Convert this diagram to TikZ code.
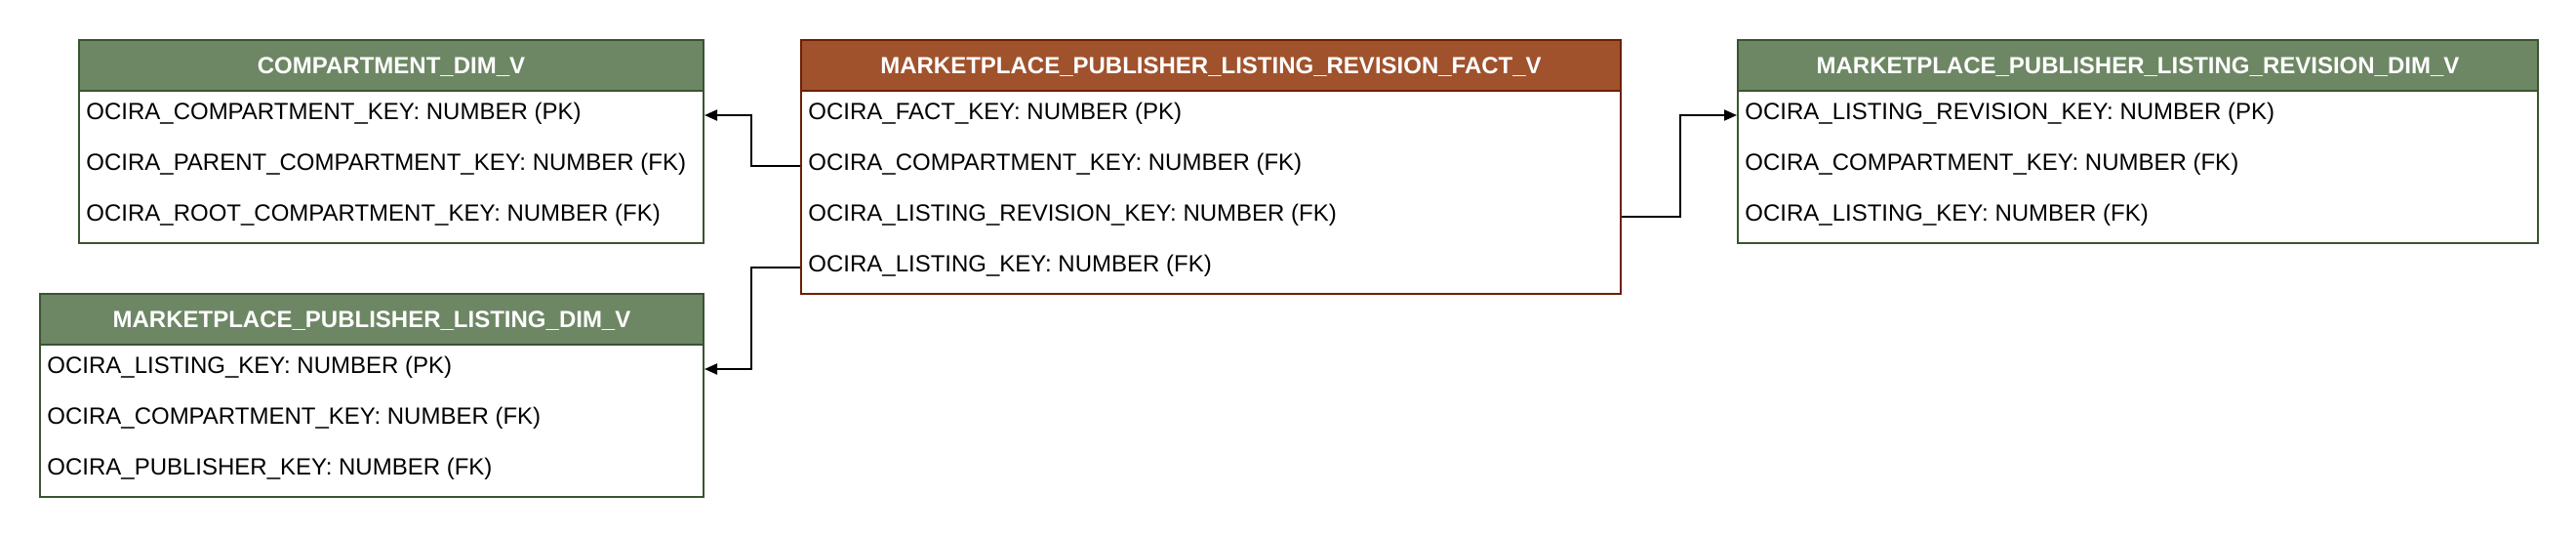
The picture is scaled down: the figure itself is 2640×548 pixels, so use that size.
\documentclass[tikz,border=0pt]{standalone}
\usepackage{fontspec}
\setmainfont{Liberation Sans}
\usetikzlibrary{arrows.meta}
\definecolor{gfill}{HTML}{6D8764}
\definecolor{gline}{HTML}{3A5431}
\definecolor{bfill}{HTML}{A0522D}
\definecolor{bline}{HTML}{6D1F00}
\tikzset{
  hdr/.style={fill=#1, line width=1pt, rectangle, inner sep=0pt,
    minimum height=26pt, anchor=north west, text=white,
    font=\fontsize{12pt}{14pt}\selectfont\bfseries, text height=8.6pt, text depth=0pt},
  bodybox/.style={draw=#1, fill=white, line width=1pt, rectangle, inner sep=0pt,
    anchor=north west},
  rowtext/.style={anchor=west, inner xsep=4pt, inner ysep=0pt,
    text height=8.6pt, text depth=4.6pt,
    font=\fontsize{12pt}{14pt}\selectfont},
  conn/.style={draw=black, line width=1pt, -{Triangle[length=6.5pt,width=5.5pt]}}
}
\begin{document}
\begin{tikzpicture}[x=0.5pt,y=-0.5pt]
\useasboundingbox (0,0) rectangle (2640,548);
% COMPARTMENT_DIM_V
\node[bodybox=gline, minimum width=320pt, minimum height=78pt] (cbody) at (80,92) {};
\node[hdr=gfill, draw=gline, minimum width=320pt] (chead) at (80,40) {COMPARTMENT\_DIM\_V};
\node[rowtext] (c1) at (80,118) {OCIRA\_COMPARTMENT\_KEY: NUMBER (PK)};
\node[rowtext] (c2) at (80,170) {OCIRA\_PARENT\_COMPARTMENT\_KEY: NUMBER (FK)};
\node[rowtext] (c3) at (80,222) {OCIRA\_ROOT\_COMPARTMENT\_KEY: NUMBER (FK)};
% MARKETPLACE_PUBLISHER_LISTING_DIM_V
\node[bodybox=gline, minimum width=340pt, minimum height=78pt] (lbody) at (40,352) {};
\node[hdr=gfill, draw=gline, minimum width=340pt] (lhead) at (40,300) {MARKETPLACE\_PUBLISHER\_LISTING\_DIM\_V};
\node[rowtext] (l1) at (40,378) {OCIRA\_LISTING\_KEY: NUMBER (PK)};
\node[rowtext] (l2) at (40,430) {OCIRA\_COMPARTMENT\_KEY: NUMBER (FK)};
\node[rowtext] (l3) at (40,482) {OCIRA\_PUBLISHER\_KEY: NUMBER (FK)};
% FACT
\node[bodybox=bline, minimum width=420pt, minimum height=104pt] (fbody) at (820,92) {};
\node[hdr=bfill, draw=bline, minimum width=420pt] (fhead) at (820,40) {MARKETPLACE\_PUBLISHER\_LISTING\_REVISION\_FACT\_V};
\node[rowtext] (f1) at (820,118) {OCIRA\_FACT\_KEY: NUMBER (PK)};
\node[rowtext] (f2) at (820,170) {OCIRA\_COMPARTMENT\_KEY: NUMBER (FK)};
\node[rowtext] (f3) at (820,222) {OCIRA\_LISTING\_REVISION\_KEY: NUMBER (FK)};
\node[rowtext] (f4) at (820,274) {OCIRA\_LISTING\_KEY: NUMBER (FK)};
% REVISION DIM
\node[bodybox=gline, minimum width=410pt, minimum height=78pt] (rbody) at (1780,92) {};
\node[hdr=gfill, draw=gline, minimum width=410pt] (rhead) at (1780,40) {MARKETPLACE\_PUBLISHER\_LISTING\_REVISION\_DIM\_V};
\node[rowtext] (r1) at (1780,118) {OCIRA\_LISTING\_REVISION\_KEY: NUMBER (PK)};
\node[rowtext] (r2) at (1780,170) {OCIRA\_COMPARTMENT\_KEY: NUMBER (FK)};
\node[rowtext] (r3) at (1780,222) {OCIRA\_LISTING\_KEY: NUMBER (FK)};
% connectors
\draw[conn] (fbody.west |- f2) -- ++(-50,0) |- (cbody.east |- c1);
\draw[conn] (fbody.west |- f4) -- ++(-50,0) |- (lbody.east |- l1);
\draw[conn] (fbody.east |- f3) -- ++(60,0) |- (rbody.west |- r1);
\end{tikzpicture}
\end{document}
